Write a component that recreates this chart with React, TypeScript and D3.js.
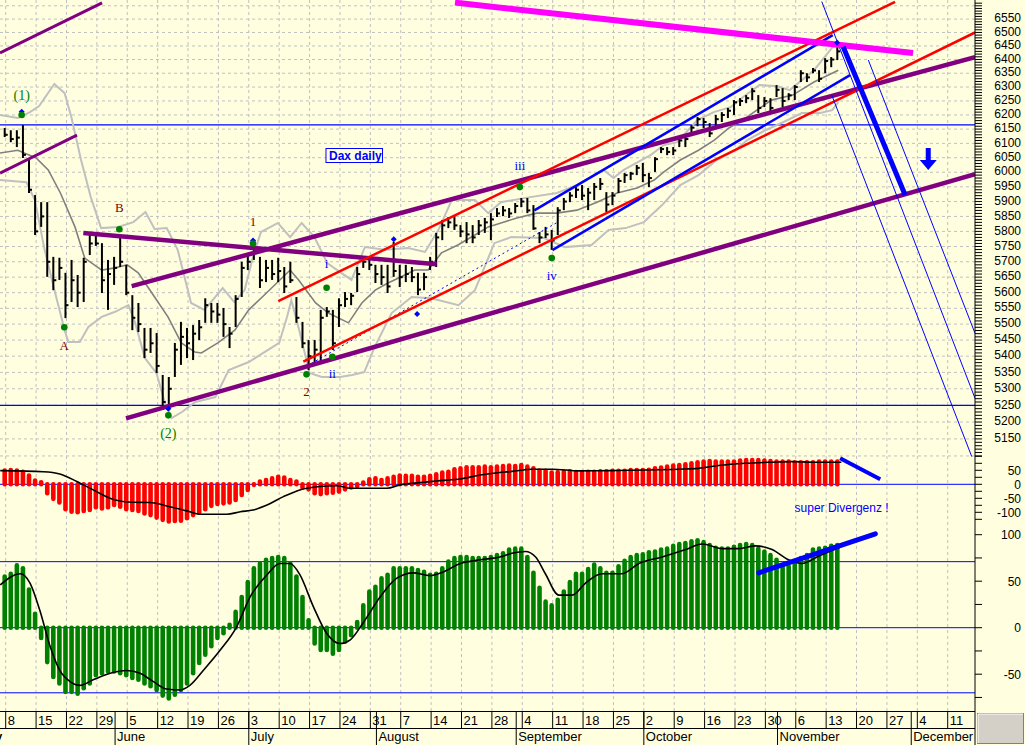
import * as d3 from "d3";

// daily bars, trading-day index 0 = Mon 8 May 2006
const highs = [6154,6146,6146,6164,6049,5922,5898,5898,5716,5713, 5664,5706,5657,5713,5795,5791,5761,5706,5716,5781,
  5690,5592,5567,5488,5488,5472,5342,5336,5441,5507, 5488,5497,5513,5582,5567,5567,5551,5491,5592,5700,
  5722,5771,5716,5706,5706,5713,5683,5700,5586,5507, 5450,5450,5545,5554,5545,5582,5602,5599,5683,5713,
  5713,5690,5690,5690,5765,5690,5690,5683,5664,5664, 5716,5795,5838,5848,5855,5821,5831,5821,5838,5845,
  5861,5878,5885,5878,5895,5912,5912,5888,5798,5815, 5805,5881,5912,5932,5949,5956,5946,5963,5980,5932,
  5932,5980,5997,6001,6025,6032,5997,6052,6087,6087, 6087,6118,6122,6164,6193,6189,6171,6200,6210,6225,
  6253,6260,6271,6296,6271,6264,6260,6307,6296,6278, 6307,6361,6350,6369,6361,6405,6409,6446];
const lows = [6122,6104,6087,6049,5929,5788,5815,5651,5608,5641, 5519,5570,5554,5570,5722,5752,5599,5545,5625,5683,
  5592,5481,5475,5394,5410,5348,5236,5245,5336,5373, 5394,5388,5450,5504,5504,5504,5460,5425,5491,5586,
  5673,5706,5615,5634,5641,5634,5599,5631,5504,5425, 5357,5373,5382,5523,5419,5491,5554,5560,5602,5680,
  5673,5631,5625,5599,5651,5618,5634,5634,5592,5608, 5673,5683,5771,5811,5805,5781,5761,5761,5788,5795,
  5771,5848,5851,5845,5861,5881,5861,5805,5761,5778, 5739,5788,5871,5898,5912,5905,5871,5905,5939,5865,
  5888,5929,5963,5973,5990,5966,5949,6001,6066,6059, 6059,6087,6087,6135,6160,6154,6122,6154,6175,6189,
  6200,6232,6242,6253,6207,6228,6210,6264,6228,6253, 6253,6318,6318,6350,6318,6350,6372,6398];
const closes = [6130,6115,6120,6060,5940,5800,5850,5700,5640,5680, 5560,5640,5600,5700,5760,5760,5640,5660,5680,5700,
  5600,5520,5500,5420,5440,5370,5260,5300,5420,5460, 5440,5470,5490,5560,5540,5530,5500,5470,5580,5680,
  5700,5730,5640,5680,5660,5670,5620,5640,5520,5440, 5400,5420,5520,5540,5440,5560,5580,5590,5660,5700,
  5690,5660,5650,5620,5670,5650,5660,5650,5610,5650, 5700,5780,5820,5830,5820,5800,5790,5780,5820,5830,
  5840,5860,5870,5860,5885,5900,5870,5810,5780,5790, 5770,5870,5900,5920,5940,5920,5930,5950,5960,5890,
  5920,5970,5990,5995,6015,5990,5980,6045,6080,6070, 6075,6110,6115,6155,6185,6175,6135,6185,6200,6215,
  6245,6250,6260,6285,6225,6250,6225,6290,6250,6270, 6300,6350,6335,6360,6330,6395,6400,6430];

// average and bands, [day, level]
const avgLine = [[-1,6066],[2,6076],[5,6049],[7,6008],[9,5929],[11.4,5815],[13,5712],[15.8,5673],[18,5680],[20,5690],
  [21.8,5664],[24.5,5586],[26.7,5523],[28.9,5441],[31.1,5413],[32.2,5410],[34.9,5441],[37.7,5481],[40,5545],[42.9,5599],
  [44.6,5631],[46.8,5673],[48.2,5641],[51,5567],[53.1,5535],[56.4,5504],[58.6,5567],[60.8,5608],[62.9,5631],[65.1,5651],
  [67.3,5673],[69.5,5673],[71.7,5729],[74.4,5755],[77.2,5788],[79.4,5815],[81.5,5828],[84.1,5845],[87.4,5861],[90.7,5861],
  [94,5871],[97.3,5898],[100.6,5929],[103.9,5946],[106.7,5973],[108.3,6001],[111,6042],[114,6076],[116.6,6111],[119,6154],
  [122,6193],[126,6253],[129.5,6271],[133,6318],[137,6361]];
const upperBand = [[-1,6200],[2,6189],[4,6210],[5.5,6232],[8,6311],[9.7,6278],[10.8,6193],[12.4,6042],[14,5915],[15.7,5811],
  [18.5,5815],[21,5831],[23,5865],[24.5,5808],[26.5,5811],[28.3,5739],[30.5,5567],[32.7,5545],[35.7,5615],[37.6,5570],
  [39.3,5608],[40.7,5716],[42,5798],[44.8,5828],[46.8,5781],[48.7,5828],[50.8,5781],[52.9,5696],[55.2,5664],[56.9,5641],
  [59.1,5748],[62.4,5739],[66.2,5745],[69,5732],[71.2,5805],[73.4,5905],[77.2,5905],[79.4,5861],[81.5,5898],[86.3,5915],
  [90.7,5929],[94,5956],[98.4,6008],[100,5980],[101.7,6008],[106.1,6059],[108.3,6094],[110.5,6104],[113.8,6182],[116.5,6210],
  [119.3,6228],[121.5,6267],[124,6307],[127,6303],[129,6289],[131,6325],[133,6361],[135,6416],[137,6472]];
const lowerBand = [[-1,5973],[3.4,5966],[4.8,5905],[6.4,5739],[8.1,5602],[9.7,5481],[10.3,5444],[12.2,5444],[13.6,5491],[15.8,5523],
  [18,5539],[20.2,5560],[21.3,5504],[22.9,5394],[24.8,5348],[26.2,5257],[27.3,5212],[29,5230],[31.2,5260],[34.5,5275],
  [36.7,5357],[40,5382],[45,5441],[46.3,5523],[47,5576],[48.3,5481],[50,5348],[52,5336],[55,5336],[57,5342],
  [59,5351],[60.7,5428],[63.5,5535],[66.8,5586],[70,5582],[74.5,5560],[77.2,5608],[78.8,5683],[80.4,5761],[83.2,5781],
  [88.6,5778],[92,5748],[96.4,5755],[99.2,5805],[102,5811],[105,5831],[108,5888],[111,5956],[114,5990],[117,6042],
  [120,6076],[122,6111],[125,6146],[128,6175],[131,6207],[134,6207],[136,6217],[137,6246]];

// MACD (red) and trigger
const macd = [49,51,49,45,31,13,7,-32,-52,-65, -89,-98,-100,-95,-92,-82,-86,-82,-74,-80,
  -89,-92,-95,-104,-110,-119,-127,-133,-131,-130, -121,-110,-100,-89,-77,-70,-68,-65,-56,-38,
  -20,-2,10,15,21,27,24,15,10,-12, -18,-32,-35,-32,-30,-26,-18,-11,-6,6,
  18,21,15,21,27,31,30,30,27,27, 30,36,42,45,54,57,61,61,61,63,
  61,63,65,67,65,69,63,57,49,48, 42,43,45,46,44,44,45,45,46,46,
  48,48,48,51,51,51,52,57,60,63, 67,69,71,75,79,81,83,81,81,81,
  81,85,87,87,87,85,83,81,81,81, 79,79,79,79,81,81,81,81];
const macdTrigger = [[-0.9,49],[6.2,45],[8.9,37],[11.7,10],[14.4,-20],[17.7,-54],[21,-64],[23.7,-65],[27,-80],[29.8,-95],
  [32,-107],[36.4,-107],[38.6,-98],[40.7,-92],[43,-74],[45.7,-44],[48.4,-20],[51.7,-8],[54.5,-5],[56.7,-14],
  [62.7,-14],[64.9,-2],[68.2,6],[71.5,13],[74.8,19],[78.1,33],[81.3,42],[83.3,46],[86.6,54],[89.9,54],
  [94.3,48],[99.8,49],[105.2,51],[110.7,54],[114,57],[117.3,67],[121.7,75],[126.1,79],[129.4,81],[132.7,79],[137.5,79]];

// momentum (green) and trigger
const momentum = [55,58,67,64,41,15,-11,-37,-53,-60, -69,-69,-71,-65,-60,-51,-49,-47,-47,-49,
  -51,-54,-56,-60,-63,-67,-73,-76,-72,-67, -60,-49,-38,-29,-20,-11,-6,3,17,33,
  49,64,69,73,75,76,75,69,55,33, 8,-17,-24,-24,-28,-24,-15,-8,6,24,
  39,44,53,57,64,64,64,64,62,60, 57,58,64,71,75,76,76,75,75,75,
  76,78,80,84,85,85,76,59,43,28, 24,30,39,49,58,58,63,68,64,59,
  59,66,72,76,78,79,81,82,84,85, 88,90,91,93,94,92,89,86,85,85,
  87,89,90,89,85,82,78,73,66,66, 69,75,78,84,85,86,88,89];
const momentumTrigger = [[-0.9,46],[2.4,58],[4,48],[5.6,19],[7.3,-20],[8.9,-46],[10.6,-58],[12.2,-62],[14.4,-56],[17.2,-49],
  [19.9,-46],[22.1,-49],[24.3,-58],[26.5,-66],[28.7,-67],[30.3,-62],[32.5,-46],[35.3,-24],[38,1],[40.2,33],
  [43,57],[45.1,69],[46.8,69],[48.4,57],[50.6,23],[52.8,-6],[55,-17],[56.7,-13],[58.8,5],[61.6,33],
  [64.3,53],[67.1,59],[69.8,56],[72,60],[74.8,69],[78.1,73],[81.3,76],[83.3,80],[85.5,82],[87.2,76],
  [88.8,58],[91,35],[93.2,35],[95.4,48],[98.1,58],[101.4,58],[104.2,69],[108,76],[111.9,84],[114.6,90],
  [117.9,85],[120.6,85],[123.4,88],[126.1,84],[128.8,73],[131,69],[133.8,77],[137.5,87]];

// hand-drawn lines, [day, level] endpoints
const purpleThin = [[[-0.94,6424],[15.85,6611]], [[-0.94,5997],[11.73,6129]]];
const purpleThick = [[[12.77,5795],[70.92,5692]], [[20.73,5621],[159.5,6409]], [[19.8,5211],[159.5,5993]]];
const magentaLine = [[73.93,6612],[149.3,6424]];
const redLines = [[[44.86,5573],[146.34,6615]], [[48.97,5383],[159.5,6500]]];
const blueChannel = [[[86.98,5870],[136.08,6490]], [[89.95,5738],[138.93,6343]]];
const blueDotted = [[50.35,5378],[90.93,5832]];
const blueFan = [[[135.92,6271],[158.96,5098]], [[134.28,6616],[159.5,5271]], [[141.94,6398],[159.5,5471]]];
const blueProjection = [[137.8,6447],[148,5922]];
const arrowTip = [151.8, 6008];
const levels = [6165, 5250];
const macdSketch = [[137.3,93],[143.9,18]];
const momentumSketch = [[123.9,59],[143.1,101]];

// wave counts: [label, day, dot level, label level]
const majorCounts = [["(1)",2.63,6200,6265],["(2)",26.76,5220,5162]];
const abcCounts = [["A",9.64,5490,5429],["B",18.7,5807,5874],["1",40.7,5760,5829],["2",49.5,5344,5286]];
const minorCounts = [["i",52.8,5616,5690],["ii",53.75,5398,5342],["iii",84.6,5949,6019],["iv",89.85,5712,5652]];
const diamonds = [[2.63,6211],[26.76,5240],[40.7,5770],[63.85,5774],[67.7,5532],[136.8,6462]];

const PR = 975;
const SANS = "'Liberation Sans', Arial, sans-serif";
const SERIF = "'Liberation Serif', 'Times New Roman', serif";

export default function App() {
  const days = d3.utcDay
    .range(new Date(Date.UTC(2006, 3, 3)), new Date(Date.UTC(2006, 11, 30)))
    .filter((d) => d.getUTCDay() > 0 && d.getUTCDay() < 6);
  const base = days.findIndex((d) => d.getTime() === Date.UTC(2006, 4, 8));

  const x = d3.scaleLinear().domain([0, 155]).range([5.7, 947.7]);
  const yP = d3.scaleLog().domain([5094, 6622]).range([458, 0]);
  const yM = d3.scaleLinear().domain([0, 50]).range([484.3, 470.3]);
  const yO = d3.scaleLinear().domain([0, 100]).range([627.7, 534.7]);

  const pLine = d3.line<number[]>().x((d) => x(d[0])).y((d) => yP(d[1]));
  const mLine = d3.line<number[]>().x((d) => x(d[0])).y((d) => yM(d[1])).curve(d3.curveMonotoneX);
  const oLine = d3.line<number[]>().x((d) => x(d[0])).y((d) => yO(d[1])).curve(d3.curveMonotoneX);
  const mStraight = d3.line<number[]>().x((d) => x(d[0])).y((d) => yM(d[1]));
  const oStraight = d3.line<number[]>().x((d) => x(d[0])).y((d) => yO(d[1]));

  const cal = days.map((d, k) => ({ d, r: k - base }));
  const mondays = cal.filter((c) => c.d.getUTCDay() === 1 && x(c.r) > -20 && x(c.r) < PR);
  const monthStarts = cal.filter(
    (c, k) => k > 0 && c.d.getUTCMonth() !== cal[k - 1].d.getUTCMonth() && x(c.r) < PR
  );
  const monthName = d3.utcFormat("%B");

  const gridLevels = d3.range(5100, 6601, 50);
  const labelLevels = d3.range(5150, 6551, 50);
  const minorLevels = d3.range(5100, 6621, 10);

  const bx = (i: number) => x(i) - 1;

  const diamond = (cx: number, cy: number, r: number) =>
    `M${cx},${cy - r}L${cx + r},${cy}L${cx},${cy + r}L${cx - r},${cy}Z`;

  const [ax, ap] = arrowTip;
  const tipX = x(ax);
  const tipY = yP(ap);

  return (
    <svg width={1025} height={745} style={{ position: "absolute", left: 0, top: 0 }} fontFamily={SANS}>
      <defs>
        <clipPath id="pc"><rect x={0} y={0} width={PR} height={458} /></clipPath>
        <clipPath id="mc"><rect x={0} y={452} width={PR} height={78} /></clipPath>
        <clipPath id="oc"><rect x={0} y={528} width={PR} height={183} /></clipPath>
        <clipPath id="ac"><rect x={0} y={711} width={PR} height={34} /></clipPath>
      </defs>
      <rect width={1025} height={745} fill="#ffffe0" />

      {/* grid */}
      {mondays.map((c) => (
        <line key={"vg" + c.r} x1={x(c.r)} x2={x(c.r)} y1={0} y2={711} stroke="#c0c0c0" strokeDasharray="3,3" />
      ))}
      {gridLevels.map((v) => (
        <line key={"hg" + v} x1={0} x2={PR} y1={yP(v)} y2={yP(v)} stroke="#c0c0c0" strokeDasharray="3,3" />
      ))}

      {/* price panel */}
      <g clipPath="url(#pc)">
        {levels.map((v) => (
          <line key={"lv" + v} x1={0} x2={PR} y1={yP(v)} y2={yP(v)} stroke="#0000ff" strokeWidth={1.2} />
        ))}
        <path d={pLine(upperBand) || ""} fill="none" stroke="#c0c0c0" strokeWidth={2} />
        <path d={pLine(lowerBand) || ""} fill="none" stroke="#c0c0c0" strokeWidth={2} />
        <path d={pLine(avgLine) || ""} fill="none" stroke="#808080" strokeWidth={1.6} />
        {highs.map((h, i) => (
          <g key={"b" + i}>
            <line x1={bx(i)} x2={bx(i)} y1={yP(h)} y2={yP(lows[i])} stroke="#000" strokeWidth={2} />
            <line x1={bx(i)} x2={bx(i) + 3} y1={yP(closes[i])} y2={yP(closes[i])} stroke="#000" strokeWidth={2} />
          </g>
        ))}
        <path d={pLine(blueDotted) || ""} fill="none" stroke="#0000ff" strokeWidth={1} strokeDasharray="2,3" />
        {purpleThin.map((l, k) => (
          <path key={"pt" + k} d={pLine(l) || ""} stroke="#800080" strokeWidth={3} />
        ))}
        {purpleThick.map((l, k) => (
          <path key={"pk" + k} d={pLine(l) || ""} stroke="#800080" strokeWidth={4.5} />
        ))}
        {redLines.map((l, k) => (
          <path key={"rl" + k} d={pLine(l) || ""} stroke="#ff0000" strokeWidth={2.5} />
        ))}
        {blueChannel.map((l, k) => (
          <path key={"bc" + k} d={pLine(l) || ""} stroke="#0000ff" strokeWidth={2.5} />
        ))}
        {blueFan.map((l, k) => (
          <path key={"bf" + k} d={pLine(l) || ""} stroke="#0000ff" strokeWidth={1} />
        ))}
        <path d={pLine(magentaLine) || ""} stroke="#ff00ff" strokeWidth={6} />
        <path d={pLine(blueProjection) || ""} stroke="#0000ff" strokeWidth={5} />
        <path
          d={`M${tipX - 2.5},${tipY - 22}h5v12h6l-8.5,10l-8.5,-10h6z`}
          fill="#0000ff"
        />

        {diamonds.map(([d, v], k) => (
          <path key={"dm" + k} d={diamond(x(d), yP(v), 3)} fill="#0000ff" />
        ))}
        {[...majorCounts, ...abcCounts, ...minorCounts].map((c, k) => (
          <circle key={"dt" + k} cx={x(c[1] as number)} cy={yP(c[2] as number)} r={3.3} fill="#008000" />
        ))}
        {majorCounts.map((c) => (
          <text key={"mj" + c[0]} x={x(c[1] as number)} y={yP(c[3] as number)} textAnchor="middle"
            dominantBaseline="middle" fontFamily={SERIF} fontSize={14} fill="#008000">{c[0]}</text>
        ))}
        {abcCounts.map((c) => (
          <text key={"ab" + c[0]} x={x(c[1] as number)} y={yP(c[3] as number)} textAnchor="middle"
            dominantBaseline="middle" fontFamily={SERIF} fontSize={13} fill="#800000">{c[0]}</text>
        ))}
        {minorCounts.map((c) => (
          <text key={"mn" + c[0]} x={x(c[1] as number)} y={yP(c[3] as number)} textAnchor="middle"
            dominantBaseline="middle" fontFamily={SERIF} fontSize={13} fill="#0000ff">{c[0]}</text>
        ))}

        <rect x={x(52.7)} y={yP(6082)} width={56.5} height={14} fill="#ffffe0" stroke="#0000ff" strokeWidth={1} />
        <text x={x(52.7) + 3} y={yP(6082) + 11} fontSize={12} fontWeight="bold" fill="#0000ff">Dax daily</text>
      </g>

      {/* MACD panel */}
      <g clipPath="url(#mc)">
        <line x1={0} x2={PR} y1={yM(0)} y2={yM(0)} stroke="#0000ff" strokeWidth={1} />
        {macd.map((v, i) => (
          <line key={"m" + i} x1={bx(i)} x2={bx(i)} y1={yM(0)} y2={yM(v)} stroke="#ff0000"
            strokeWidth={4.6} strokeLinecap="round" />
        ))}
        <path d={mLine(macdTrigger) || ""} fill="none" stroke="#000" strokeWidth={1.6} />
        <path d={mStraight(macdSketch) || ""} stroke="#0000ff" strokeWidth={4} />
      </g>
      <text x={x(129.8)} y={yM(-86)} dominantBaseline="middle" fontSize={12} fill="#0000ff">super Divergenz !</text>

      {/* momentum panel */}
      <g clipPath="url(#oc)">
        {[71, 0, -70].map((v) => (
          <line key={"ol" + v} x1={0} x2={PR} y1={yO(v)} y2={yO(v)} stroke="#0000ff" strokeWidth={1} />
        ))}
        {momentum.map((v, i) => (
          <line key={"o" + i} x1={bx(i)} x2={bx(i)} y1={yO(0)} y2={yO(v)} stroke="#008000"
            strokeWidth={4.6} strokeLinecap="round" />
        ))}
        <path d={oLine(momentumTrigger) || ""} fill="none" stroke="#000" strokeWidth={1.6} />
        <path d={oStraight(momentumSketch) || ""} stroke="#0000ff" strokeWidth={5} strokeLinecap="round" />
      </g>

      {/* right axis */}
      <line x1={PR} x2={PR} y1={0} y2={745} stroke="#000" />
      {minorLevels.filter((v) => yP(v) > 1 && yP(v) < 457).map((v) => (
        <line key={"pt" + v} x1={PR} x2={PR + 7} y1={yP(v)} y2={yP(v)} stroke="#000" />
      ))}
      {labelLevels.map((v) => (
        <text key={"pl" + v} x={1021} y={yP(v)} textAnchor="end" dominantBaseline="middle" fontSize={12}>{v}</text>
      ))}
      {d3.range(-125, 101, 25).filter((v) => yM(v) > 455 && yM(v) < 527).map((v) => (
        <line key={"mt" + v} x1={PR} x2={PR + 7} y1={yM(v)} y2={yM(v)} stroke="#000" />
      ))}
      {[50, 0, -50, -100].map((v) => (
        <text key={"ml" + v} x={1021} y={yM(v) + 1.7} textAnchor="end" dominantBaseline="middle" fontSize={12}>{v}</text>
      ))}
      {d3.range(-100, 126, 25).filter((v) => yO(v) > 528 && yO(v) < 711).map((v) => (
        <line key={"ot" + v} x1={PR} x2={PR + 7} y1={yO(v)} y2={yO(v)} stroke="#000" />
      ))}
      {[100, 50, 0, -50].map((v) => (
        <text key={"oL" + v} x={1021} y={yO(v) + 1.3} textAnchor="end" dominantBaseline="middle" fontSize={12}>{v}</text>
      ))}

      {/* date axis */}
      <g clipPath="url(#ac)">
        <line x1={0} x2={PR} y1={711.5} y2={711.5} stroke="#000" />
        <line x1={0} x2={PR} y1={728.5} y2={728.5} stroke="#000" />
        {mondays.map((c) => (
          <g key={"dl" + c.r}>
            <line x1={x(c.r)} x2={x(c.r)} y1={711.5} y2={728.5} stroke="#000" />
            <text x={x(c.r) + 2} y={725} fontSize={13}>{c.d.getUTCDate()}</text>
          </g>
        ))}
        {[{ d: new Date(Date.UTC(2006, 4, 1)), r: -5 }, ...monthStarts].map((c) => (
          <g key={"ml" + c.r}>
            <line x1={x(c.r)} x2={x(c.r)} y1={711.5} y2={745} stroke="#000" />
            <text x={x(c.r) + 2} y={741} fontSize={13}>{monthName(c.d)}</text>
          </g>
        ))}
      </g>
      <rect x={977.5} y={713.5} width={46} height={30} fill="#d4d0c8" stroke="#808080" />
      <path d="M978,743V714H1023" fill="none" stroke="#ffffff" />
    </svg>
  );
}
